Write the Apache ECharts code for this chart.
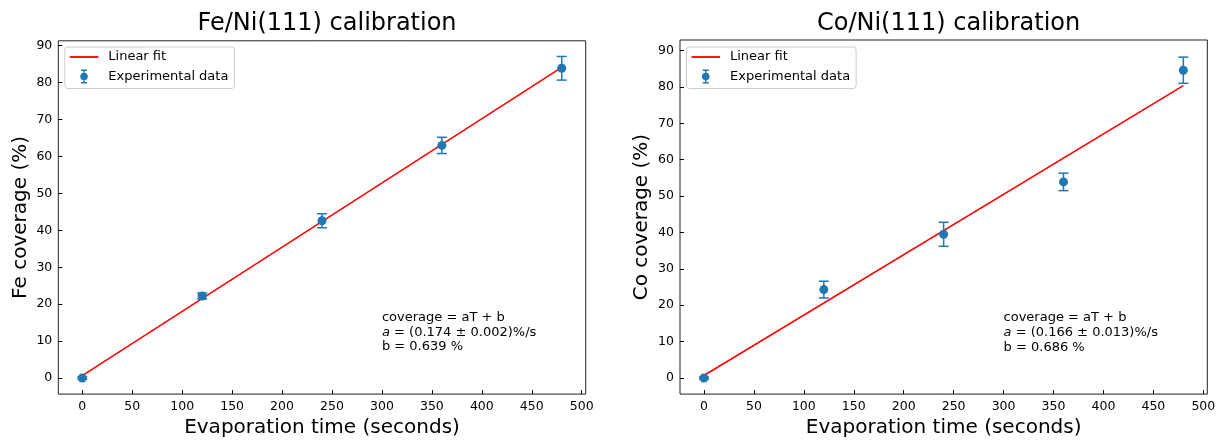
<!DOCTYPE html>
<html><head><meta charset="utf-8">
<script src="https://cdn.jsdelivr.net/npm/echarts@6/dist/echarts.min.js"></script>
<style>html,body{margin:0;padding:0;background:#fff}#c{width:1229px;height:443px}</style>
</head><body><div id="c"></div>
<script>
// ---- data ----
const evapTime   = [0, 120, 240, 360, 480];
const feCoverage = [0, 22.2, 42.6, 63.0, 83.9];
const feError    = [0.3, 0.8, 1.9, 2.2, 3.2];
const coCoverage = [0, 24.3, 39.5, 53.9, 84.6];
const coError    = [0.3, 2.3, 3.3, 2.4, 3.6];
const fitX       = [0, 480];
const feFitY     = [0.639, 84.159];
const coFitY     = [0.686, 80.366];
const xTicks     = [0, 50, 100, 150, 200, 250, 300, 350, 400, 450, 500];
const yTicks     = [0, 10, 20, 30, 40, 50, 60, 70, 80, 90];
const titles     = ['Fe/Ni(111) calibration', 'Co/Ni(111) calibration'];
const yNames     = ['Fe coverage (%)', 'Co coverage (%)'];
const xName      = 'Evaporation time (seconds)';
const legendNames = ['Linear fit', 'Experimental data'];
const noteFe     = ['coverage = aT + b', 'a', ' = (0.174 ± 0.002)%/s', 'b = 0.639 %'];
const noteCo     = ['coverage = aT + b', 'a', ' = (0.166 ± 0.013)%/s', 'b = 0.686 %'];
const noteAt     = [300, 8];

const FONT = 'DejaVu Sans';
const BLUE = '#1f77b4';
const chart = echarts.init(document.getElementById('c'));

const grids = [
  {left: 58.3, top: 40.8, width: 527.4, height: 358.2},
  {left: 680, top: 40, width: 527.3, height: 359}
];
const yRanges = [[-4.36, 91.34], [-4.42, 92.9]];
const titleCenters = [322, 943.6];

function xAxis(i) {
  return {
    type: 'value', gridIndex: i, min: -24, max: 504,
    name: xName, nameLocation: 'middle', nameGap: 21,
    nameTextStyle: {fontFamily: FONT, fontSize: 20, color: '#000'},
    axisLine: {show: false, onZero: false},
    axisTick: {show: true, inside: true, length: 4, customValues: xTicks, lineStyle: {color: '#000', width: 1}},
    axisLabel: {customValues: xTicks, margin: 6, fontFamily: FONT, fontSize: 12.5, color: '#000'},
    splitLine: {show: false}
  };
}
function yAxis(i) {
  return {
    type: 'value', gridIndex: i, min: yRanges[i][0], max: yRanges[i][1],
    name: yNames[i], nameLocation: 'middle', nameGap: 28,
    nameTextStyle: {fontFamily: FONT, fontSize: 20, color: '#000'},
    axisLine: {show: false, onZero: false},
    axisTick: {show: true, inside: true, length: 4, customValues: yTicks, lineStyle: {color: '#000', width: 1}},
    axisLabel: {customValues: yTicks, margin: 6, fontFamily: FONT, fontSize: 12.5, color: '#000'},
    splitLine: {show: false}
  };
}
function errRender(params, api) {
  const x = api.value(0), y = api.value(1), e = api.value(2);
  const top = api.coord([x, y + e]);
  const bot = api.coord([x, y - e]);
  const hw = 5;
  const st = {stroke: BLUE, lineWidth: 1.5};
  return {type: 'group', children: [
    {type: 'line', shape: {x1: top[0], y1: top[1], x2: bot[0], y2: bot[1]}, style: st},
    {type: 'line', shape: {x1: top[0] - hw, y1: top[1], x2: top[0] + hw, y2: top[1]}, style: st},
    {type: 'line', shape: {x1: bot[0] - hw, y1: bot[1], x2: bot[0] + hw, y2: bot[1]}, style: st}
  ]};
}
function seriesFor(i, cov, err, fitY, note) {
  return [
    {name: legendNames[0], type: 'line', xAxisIndex: i, yAxisIndex: i,
     data: fitX.map((x, k) => [x, fitY[k]]), symbol: 'none', silent: true,
     lineStyle: {color: '#ff0000', width: 1.6}, itemStyle: {color: '#ff0000'}, z: 2, animation: false},
    {name: legendNames[1], type: 'custom', xAxisIndex: i, yAxisIndex: i,
     data: evapTime.map((x, k) => [x, cov[k], err[k]]), renderItem: errRender,
     itemStyle: {color: BLUE}, z: 3, animation: false, silent: true},
    {name: legendNames[1], type: 'scatter', xAxisIndex: i, yAxisIndex: i,
     data: evapTime.map((x, k) => [x, cov[k]]), symbol: 'circle', symbolSize: 9,
     itemStyle: {color: BLUE, opacity: 1}, z: 4, animation: false, silent: true},
    {name: 'note', type: 'scatter', xAxisIndex: i, yAxisIndex: i,
     data: [noteAt], symbolSize: 0, silent: true, animation: false,
     itemStyle: {opacity: 1, color: '#000'},
     label: {show: true, position: [0, 6], align: 'left', verticalAlign: 'bottom',
       formatter: note[0] + '\n{i|' + note[1] + '}' + note[2] + '\n' + note[3],
       fontFamily: FONT, fontSize: 13, lineHeight: 14.8, color: '#000', opacity: 1,
       rich: {i: {fontStyle: 'italic', fontFamily: FONT, fontSize: 13, lineHeight: 14.8, color: '#000'}}}}
  ];
}
const lineIcon = 'path://M0,0H28V1.8H0Z';
const errIcon = 'path://M1,0H7V1.5H4.7V12.5H7V14H1V12.5H3.3V1.5H1Z M0.2,7A3.8,3.8 0 1,1 7.8,7A3.8,3.8 0 1,1 0.2,7Z';
function legend(i) {
  return {
    orient: 'vertical', left: grids[i].left + 6.5, top: 47,
    padding: [3.5, 6, 5, 5], itemGap: 6, itemWidth: 28.5, itemHeight: 14,
    backgroundColor: 'rgba(255,255,255,0.8)', borderColor: '#cccccc', borderWidth: 1, borderRadius: 3,
    selectedMode: false,
    textStyle: {fontFamily: FONT, fontSize: 13, color: '#000', padding: [0, 0, 0, 5]},
    data: [{name: legendNames[0], icon: lineIcon}, {name: legendNames[1], icon: errIcon}]
  };
}
chart.setOption({
  animation: false,
  title: titles.map((t, i) => ({text: t, left: titleCenters[i], top: 7, textAlign: 'center',
    textStyle: {fontFamily: FONT, fontSize: 24, fontWeight: 'normal', color: '#000'}})),
  grid: grids.map(g => Object.assign({show: true, borderColor: '#222', borderWidth: 1, backgroundColor: 'transparent'}, g)),
  legend: [legend(0), legend(1)],
  xAxis: [xAxis(0), xAxis(1)],
  yAxis: [yAxis(0), yAxis(1)],
  series: [].concat(seriesFor(0, feCoverage, feError, feFitY, noteFe),
                    seriesFor(1, coCoverage, coError, coFitY, noteCo))
});
</script>
</body></html>
